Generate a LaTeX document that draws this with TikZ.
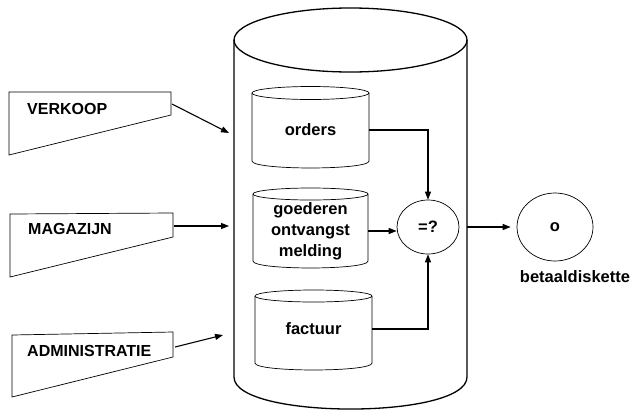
\documentclass[tikz,border=0pt]{standalone}
\usepackage{fontspec}
\setmainfont{Liberation Sans}
\usetikzlibrary{arrows.meta,shapes.geometric}

\newlength{\du}
\setlength{\du}{1pt}

\tikzset{
  lbl/.style={font=\bfseries\fontsize{16.5}{21}\selectfont, inner sep=0pt},
  kop/.style={font=\bfseries\fontsize{16}{21}\selectfont, inner sep=0pt},
  bak/.style={lbl, align=center, text width=117\du},
  dun/.style={line width=0.7\du},
  pijl/.style={line width=1.1\du, -{Triangle[length=8pt,width=6pt]}},
}

\begin{document}
\begin{tikzpicture}
\pgftransformxscale{1.000000}
\pgftransformyscale{-1.000000}
\definecolor{dialinecolor}{rgb}{0.000000, 0.000000, 0.000000}
\pgfsetstrokecolor{dialinecolor}
\useasboundingbox (0\du,0\du) rectangle (631\du,413\du);

% grote cilinder (database)
\draw[line width=1.3\du] (350.5\du,40\du) ellipse [x radius=116.5\du, y radius=32\du];
\draw[line width=1.3\du] (234\du,40\du)--(234\du,377\du) .. controls (234\du,419.7\du) and (467\du,419.7\du) .. (467\du,377\du)--(467\du,40\du);
\coordinate (db-in1) at (229\du,133\du);
\coordinate (db-in2) at (229\du,226\du);
\coordinate (db-in3) at (223\du,335\du);
\coordinate (db-uit) at (467\du,227\du);

% bronnen links
\draw[dun] (9\du,92\du)--(171\du,92\du)--(171\du,115\du)--(9\du,155\du)--cycle;
\node[kop, anchor=west] (verkoop) at (27\du,109\du){VERKOOP};
\coordinate (verkoop-uit) at (172\du,104\du);

\draw[dun] (10\du,214\du)--(173\du,213\du)--(173\du,237\du)--(10\du,277\du)--cycle;
\node[kop, anchor=west] (magazijn) at (28\du,229\du){MAGAZIJN};
\coordinate (magazijn-uit) at (174\du,226\du);

\draw[dun] (12\du,335\du)--(173\du,332\du)--(173\du,357\du)--(12\du,397\du)--cycle;
\node[kop, anchor=west] (administratie) at (27\du,351\du){ADMINISTRATIE};
\coordinate (administratie-uit) at (175\du,347\du);

\draw[pijl] (verkoop-uit)--(db-in1);
\draw[pijl] (magazijn-uit)--(db-in2);
\draw[pijl] (administratie-uit)--(db-in3);

% bestanden in de database
\draw[dun] (310.5\du,93\du) ellipse [x radius=58.5\du, y radius=6.5\du];
\draw[dun] (252\du,93\du)--(252\du,161\du) .. controls (252\du,170.3\du) and (369\du,170.3\du) .. (369\du,161\du)--(369\du,93\du);
\node[bak] (orders) at (310.5\du,130\du){orders};

\draw[dun] (310.5\du,194\du) ellipse [x radius=57.5\du, y radius=6\du];
\draw[dun] (253\du,194\du)--(253\du,261\du) .. controls (253\du,270.3\du) and (368\du,270.3\du) .. (368\du,261\du)--(368\du,194\du);
\node[bak, text width=115\du] (goederen) at (310.5\du,231\du){goederen\\ontvangst\\melding};

\draw[dun] (313.5\du,296\du) ellipse [x radius=58.5\du, y radius=6\du];
\draw[dun] (255\du,296\du)--(255\du,363\du) .. controls (255\du,372.3\du) and (372\du,372.3\du) .. (372\du,363\du)--(372\du,296\du);
\node[bak] (factuur) at (313.5\du,329\du){factuur};

% vergelijking
\node[lbl, dun, draw, ellipse, minimum width=62\du, minimum height=54\du] (vgl) at (428\du,227\du){=?};
\draw[pijl] (orders.east)-|(vgl.north);
\draw[pijl] (goederen.east)--(goederen.east -| vgl.west);
\draw[pijl] (factuur.east)-|(vgl.south);

% uitvoer
\node[lbl, dun, draw, ellipse, minimum width=76\du, minimum height=68\du] (diskette) at (555\du,227\du){o};
\node[lbl] (betaal) at (575\du,277\du){betaaldiskette};
\draw[pijl, shorten >=6\du] (db-uit)--(diskette.west);
\end{tikzpicture}
\end{document}
